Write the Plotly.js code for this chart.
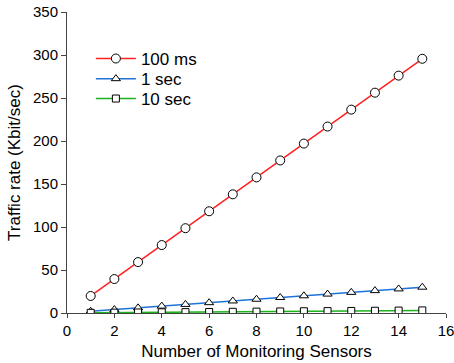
<!DOCTYPE html>
<html>
<head>
<meta charset="utf-8">
<script src="https://cdn.plot.ly/plotly-3.0.1.min.js"></script>
<style>
  html, body { margin: 0; padding: 0; background: #fff; }
  #chart { width: 454px; height: 363px; }
</style>
</head>
<body>
<div id="chart"></div>
<script>
// Number of monitoring sensors
const sensors = [1, 2, 3, 4, 5, 6, 7, 8, 9, 10, 11, 12, 13, 14, 15];

// Traffic rate (Kbit/sec) for each reporting interval
const rate100ms = [19.8, 39.5, 59.2, 79.0, 98.6, 118.3, 138.0, 157.7, 177.4, 197.0, 216.8, 236.5, 256.2, 276.0, 295.6];
const rate1sec  = [2.0, 4.0, 6.0, 8.0, 10.0, 12.0, 14.0, 16.0, 18.0, 20.0, 22.0, 24.0, 26.0, 28.0, 30.0];
const rate10sec = [0.2, 0.4, 0.6, 0.8, 1.0, 1.2, 1.4, 1.6, 1.8, 2.0, 2.2, 2.4, 2.6, 2.8, 3.0];

const seriesNames = ['100 ms', '1 sec', '10 sec'];

const markerLine = { color: '#000', width: 1 };

const traces = [
  {
    x: sensors, y: rate100ms, name: seriesNames[0], legend: 'legend',
    mode: 'lines+markers',
    line: { color: '#ff2020', width: 1.5 },
    marker: { symbol: 'circle', size: 9, color: '#fff', line: markerLine }
  },
  {
    x: sensors, y: rate1sec, name: seriesNames[1], legend: 'legend2',
    mode: 'lines+markers',
    line: { color: '#1f72d6', width: 1.5 },
    marker: { symbol: 'triangle-up', size: 8, color: '#fff', line: markerLine }
  },
  {
    x: sensors, y: rate10sec, name: seriesNames[2], legend: 'legend3',
    mode: 'lines+markers',
    line: { color: '#1db31d', width: 1.5 },
    marker: { symbol: 'square', size: 7, color: '#fff', line: markerLine }
  }
];

const fontFamily = 'Liberation Sans, Arial, sans-serif';
const tickFont = { family: fontFamily, size: 15, color: '#000' };
const titleFont = { family: fontFamily, size: 17, color: '#000' };

// One legend box per series so the rows can sit 20px apart
function legendBox(yPos) {
  return {
    x: 0.063, y: yPos, xanchor: 'left', yanchor: 'middle',
    bgcolor: 'rgba(0,0,0,0)',
    font: { family: fontFamily, size: 17, color: '#000' },
    itemwidth: 40
  };
}

const layout = {
  width: 454,
  height: 363,
  margin: { l: 67, r: 8, t: 12, b: 50 },
  paper_bgcolor: '#fff',
  plot_bgcolor: '#fff',
  showlegend: true,
  legend: legendBox(0.844),
  legend2: legendBox(0.777),
  legend3: legendBox(0.711),
  xaxis: {
    range: [0, 16],
    tickvals: [0, 2, 4, 6, 8, 10, 12, 14, 16],
    showgrid: false,
    zeroline: false,
    showline: true,
    linecolor: '#444',
    linewidth: 1,
    ticks: 'outside',
    ticklen: 4,
    tickcolor: '#444',
    tickfont: tickFont,
    ticklabeloverflow: 'allow',
    title: { text: 'Number of Monitoring Sensors', font: titleFont, standoff: 7 }
  },
  yaxis: {
    range: [0, 350],
    tickvals: [0, 50, 100, 150, 200, 250, 300, 350],
    showgrid: false,
    zeroline: false,
    showline: true,
    linecolor: '#444',
    linewidth: 1,
    ticks: 'outside',
    ticklen: 5,
    tickcolor: '#444',
    tickfont: tickFont,
    title: { text: 'Traffic rate (Kbit/sec)', font: titleFont, standoff: 8 }
  }
};

Plotly.newPlot('chart', traces, layout, { displayModeBar: false, staticPlot: true });
</script>
</body>
</html>
